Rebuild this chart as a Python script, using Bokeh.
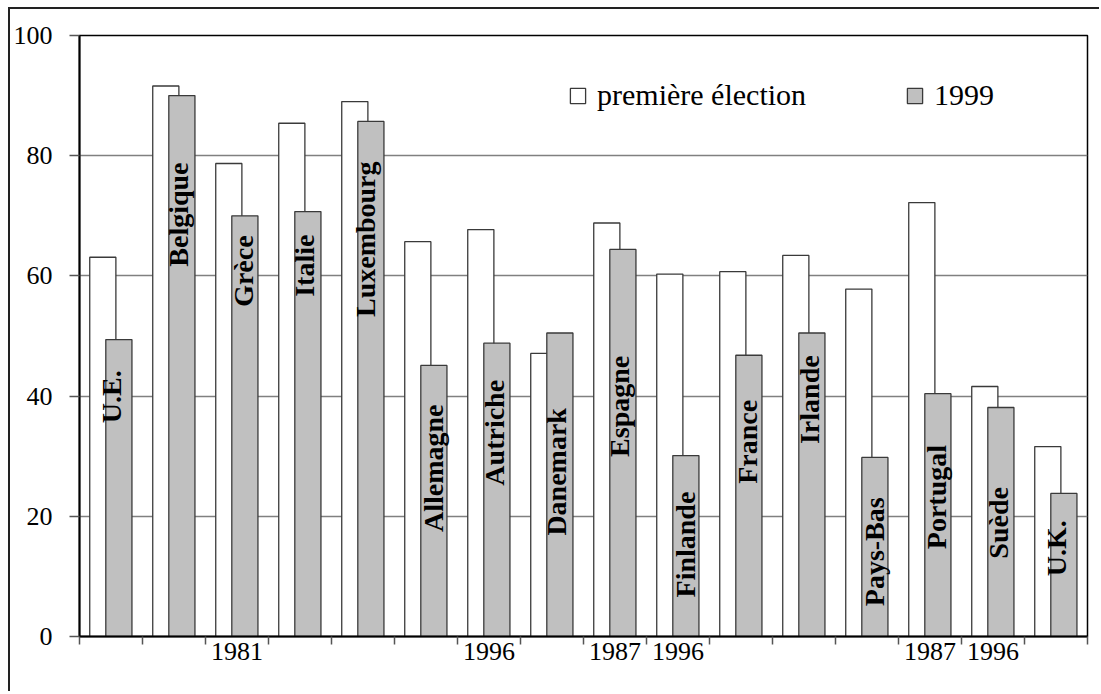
import numpy as np
from bokeh.plotting import figure
from bokeh.models import (ColumnDataSource, Range1d, FixedTicker, Legend, LegendItem)
from bokeh.core.properties import value
from bokeh.embed import file_html
from bokeh.resources import INLINE

# ---- data ----
countries = ["U.E.", "Belgique", "Grèce", "Italie", "Luxembourg", "Allemagne",
             "Autriche", "Danemark", "Espagne", "Finlande", "France", "Irlande",
             "Pays-Bas", "Portugal", "Suède", "U.K."]
first_election = [63.1, 91.6, 78.7, 85.4, 89.0, 65.7, 67.7, 47.1, 68.8, 60.3,
                  60.7, 63.4, 57.8, 72.2, 41.6, 31.6]
turnout_1999 = [49.4, 90.0, 70.0, 70.7, 85.7, 45.1, 48.8, 50.5, 64.4, 30.1,
                46.8, 50.5, 29.8, 40.4, 38.1, 23.8]
year_labels = ["", "", "1981", "", "", "", "1996", "", "1987", "1996",
               "", "", "", "1987", "1996", ""]
series_names = ["première élection", "1999"]

# label placement (data units): centre of each rotated country label
label_y = [39.9, 70.2, 60.8, 61.7, 66.1, 28.0, 33.9, 27.4, 38.3, 15.3,
           32.4, 39.4, 14.1, 23.2, 18.9, 14.7]
label_dx = [-0.125, -0.06, -0.02, -0.06, -0.08, -0.01, -0.04, -0.06, -0.06, 0.0,
            -0.02, -0.04, -0.01, -0.02, -0.03, -0.125]

n = len(countries)
idx = np.arange(n)
white_x = idx + 0.37
grey_x = idx + 0.625
bar_w = 0.415

src = ColumnDataSource(dict(
    wx=white_x, gx=grey_x, first=first_election, y99=turnout_1999,
    lx=grey_x + np.array(label_dx), ly=label_y, name=countries,
))

FONT = "Liberation Serif"

W, H = 1091, 684
p = figure(width=W, height=H, output_backend="svg", toolbar_location=None,
           x_range=Range1d(0, n), y_range=Range1d(0, 100),
           min_border_left=69, min_border_top=26, min_border_right=14,
           min_border_bottom=57)
p.styles = {"border-left": "2px solid #222", "border-top": "2px solid #222",
            "margin-left": "8px", "margin-top": "7px"}

p.background_fill_color = "white"
p.border_fill_color = "white"
p.outline_line_color = "black"
p.outline_line_width = 1.5

r1 = p.vbar(x="wx", top="first", width=bar_w, bottom=0, source=src,
            fill_color="white", line_color="#3a3a3a", line_width=1.3)
r2 = p.vbar(x="gx", top="y99", width=bar_w, bottom=0, source=src,
            fill_color="#c0c0c0", line_color="#3a3a3a", line_width=1.3)

p.text(x="lx", y="ly", text="name", source=src, angle=np.pi / 2,
       text_align="center", text_baseline="middle",
       text_font=value(FONT), text_font_style="bold",
       text_font_size="28px", text_color="black")

# grid
p.xgrid.visible = False
p.ygrid.ticker = FixedTicker(ticks=[20, 40, 60, 80])
p.ygrid.grid_line_color = "#808080"
p.ygrid.grid_line_width = 1.5

# y axis
ya = p.yaxis[0]
ya.ticker = FixedTicker(ticks=[0, 20, 40, 60, 80, 100])
ya.major_tick_out = 10
ya.major_tick_in = 0
ya.minor_tick_out = 0
ya.minor_tick_in = 0
ya.axis_line_color = "black"
ya.axis_line_width = 2
ya.major_tick_line_color = "#555555"
ya.major_tick_line_width = 1.5
ya.major_label_text_font = FONT
ya.major_label_text_font_size = "26px"
ya.major_label_text_color = "black"
ya.major_label_standoff = 17

# x axis
xa = p.xaxis[0]
centers = [i + 0.5 for i in range(n) if year_labels[i]]
xa.ticker = FixedTicker(ticks=centers, minor_ticks=list(range(n + 1)))
xa.major_label_overrides = {i + 0.5: year_labels[i] for i in range(n) if year_labels[i]}
xa.major_tick_out = 0
xa.major_tick_in = 0
xa.minor_tick_out = 8
xa.minor_tick_in = 0
xa.minor_tick_line_color = "#555555"
xa.minor_tick_line_width = 1.5
xa.axis_line_color = "black"
xa.axis_line_width = 2
xa.major_label_text_font = FONT
xa.major_label_text_font_size = "26px"
xa.major_label_text_color = "black"
xa.major_label_standoff = -2

legend = Legend(items=[LegendItem(label=series_names[0], renderers=[r1]),
                       LegendItem(label=series_names[1], renderers=[r2])],
                location=(489, 524), orientation="horizontal", spacing=99,
                label_standoff=10, glyph_width=19, glyph_height=19,
                padding=0, margin=0, border_line_alpha=0,
                background_fill_alpha=0,
                label_text_font=FONT, label_text_font_size="30px",
                label_text_color="black")
p.add_layout(legend)

open("out.html", "w").write(file_html(p, INLINE))
